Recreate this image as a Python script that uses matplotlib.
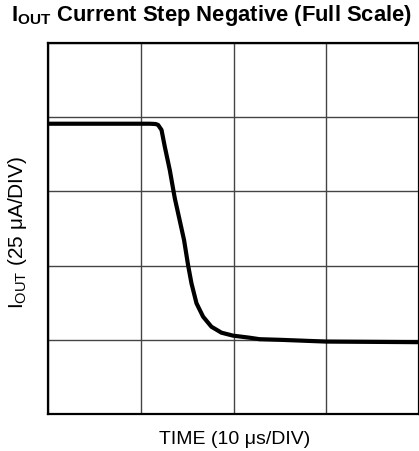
import matplotlib
matplotlib.use("Agg")
import matplotlib.pyplot as plt
import numpy as np

plt.rcParams['font.family'] = ['Liberation Sans', 'DejaVu Sans']
plt.rcParams['mathtext.fontset'] = 'custom'
plt.rcParams['mathtext.rm'] = 'Liberation Sans'
plt.rcParams['mathtext.it'] = 'Liberation Sans'
plt.rcParams['mathtext.bf'] = 'Liberation Sans:bold'

# Time in microseconds, current in microamps (offset units on scope screen)
time_us = [0, 11.0, 11.60, 11.87, 12.24, 12.59, 13.13, 13.67, 14.67, 15.10,
           15.47, 16.01, 16.72, 17.62, 18.70, 19.95, 21.74, 22.82,
           24.97, 30.0, 40.0]
iout_uA = [97.8, 97.8, 97.7, 97.4, 95.7, 90.1, 82.2, 72.7, 58.6, 50.2,
           44.0, 37.3, 32.8, 29.4, 27.4, 26.4, 25.7, 25.2,
           25.0, 24.4, 24.2]

x_div = 10   # us/DIV
y_div = 25   # uA/DIV
n_xdiv = 4
n_ydiv = 5

fig = plt.figure(figsize=(4.19, 4.51), dpi=100)
ax = fig.add_axes([48/419, 1-414/451, 1-48/419, (414-43)/451])

ax.set_xlim(0, x_div*n_xdiv)
ax.set_ylim(0, y_div*n_ydiv)
ax.set_xticks(np.arange(0, x_div*n_xdiv+1, x_div))
ax.set_yticks(np.arange(0, y_div*n_ydiv+1, y_div))
ax.tick_params(length=0, labelbottom=False, labelleft=False)
ax.grid(True, color='#444444', linewidth=1.0)
for s in ax.spines.values():
    s.set_linewidth(1.6)
    s.set_color('black')

ax.plot(time_us, iout_uA, color='black', linewidth=3.0, solid_joinstyle='round',
        solid_capstyle='butt', zorder=3)

fig.text(211/419, 1-16/451, r'$\mathbf{I_{OUT}}$ Current Step Negative (Full Scale)',
         ha='center', va='center', fontsize=15.8, fontweight='bold')
fig.text(18/419, 1-232/451, r'I$_{\mathrm{OUT}}$ (25 μA/DIV)', rotation=90,
         ha='center', va='center', fontsize=15)
fig.text(235/419, 1-439/451, 'TIME (10 μs/DIV)', ha='center', va='center', fontsize=14)

fig.savefig('out.png', dpi=100)
